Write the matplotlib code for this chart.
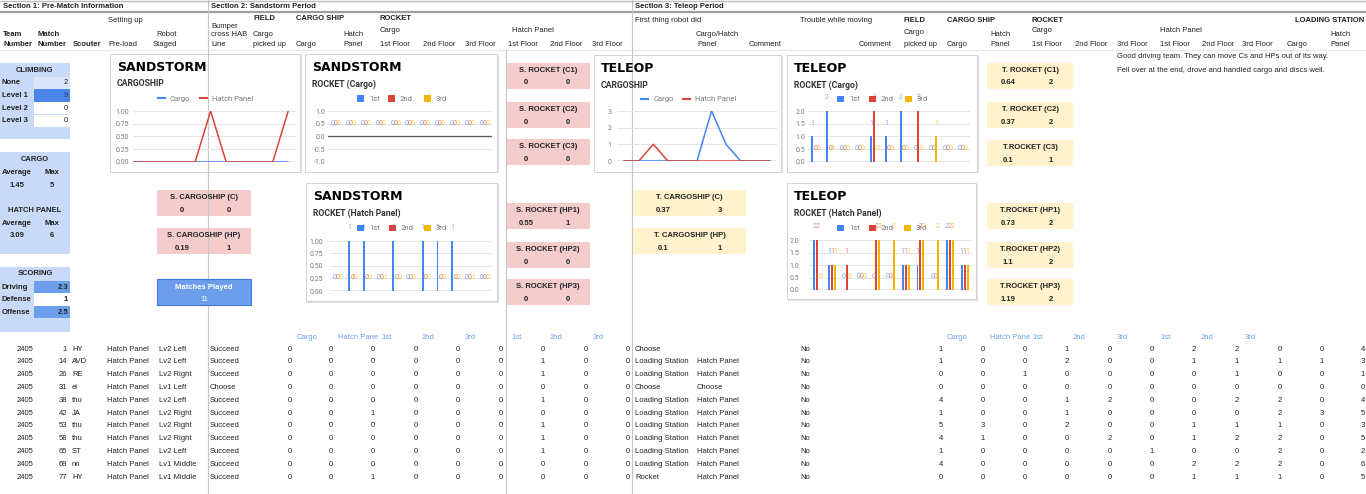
import matplotlib
matplotlib.use("Agg")
import matplotlib.pyplot as plt
from matplotlib.patches import Rectangle
import numpy as np

W, H = 1366, 494

# ─────────────────────────────────────────────
# Sheet data (one entry per scouted match)
# ─────────────────────────────────────────────
team_number = [2405, 2405, 2405, 2405, 2405, 2405, 2405, 2405, 2405, 2405, 2405]
match_number = [1, 14, 26, 31, 38, 42, 53, 58, 65, 69, 77]
scouter = ["HY", "AVD", "RE", "el", "thu", "JA", "thu", "thu", "ST", "nn", "HY"]
pre_load = ["Hatch Panel"] * 11
robot_staged = ["Lv2 Left", "Lv2 Left", "Lv2 Right", "Lv1 Left", "Lv2 Left", "Lv2 Right",
                "Lv2 Right", "Lv2 Right", "Lv2 Left", "Lv1 Middle", "Lv1 Middle"]
hab_line = ["Succeed", "Succeed", "Succeed", "Choose", "Succeed", "Succeed",
            "Succeed", "Succeed", "Succeed", "Succeed", "Succeed"]

# sandstorm counts
ss_cargo_picked = [0, 0, 0, 0, 0, 0, 0, 0, 0, 0, 0]
ss_ship_cargo = [0, 0, 0, 0, 0, 0, 0, 0, 0, 0, 0]
ss_ship_hatch = [0, 0, 0, 0, 0, 1, 0, 0, 0, 0, 1]
ss_rocket_c1 = [0, 0, 0, 0, 0, 0, 0, 0, 0, 0, 0]
ss_rocket_c2 = [0, 0, 0, 0, 0, 0, 0, 0, 0, 0, 0]
ss_rocket_c3 = [0, 0, 0, 0, 0, 0, 0, 0, 0, 0, 0]
ss_rocket_hp1 = [0, 1, 1, 0, 1, 0, 1, 1, 1, 0, 0]
ss_rocket_hp2 = [0, 0, 0, 0, 0, 0, 0, 0, 0, 0, 0]
ss_rocket_hp3 = [0, 0, 0, 0, 0, 0, 0, 0, 0, 0, 0]

first_thing = ["Choose", "Loading Station", "Loading Station", "Choose", "Loading Station",
               "Loading Station", "Loading Station", "Loading Station", "Loading Station",
               "Loading Station", "Rocket"]
first_piece = ["", "Hatch Panel", "Hatch Panel", "Choose", "Hatch Panel", "Hatch Panel",
               "Hatch Panel", "Hatch Panel", "Hatch Panel", "Hatch Panel", "Hatch Panel"]
trouble = ["No"] * 11

# teleop counts
te_cargo_picked = [1, 1, 0, 0, 4, 1, 5, 4, 1, 4, 0]
te_ship_cargo = [0, 0, 0, 0, 0, 0, 3, 1, 0, 0, 0]
te_ship_hatch = [0, 0, 1, 0, 0, 0, 0, 0, 0, 0, 0]
te_rocket_c1 = [1, 2, 0, 0, 1, 1, 2, 0, 0, 0, 0]
te_rocket_c2 = [0, 0, 0, 0, 2, 0, 0, 2, 0, 0, 0]
te_rocket_c3 = [0, 0, 0, 0, 0, 0, 0, 0, 1, 0, 0]
te_rocket_hp1 = [2, 1, 0, 0, 0, 0, 1, 1, 0, 2, 1]
te_rocket_hp2 = [2, 1, 1, 0, 2, 0, 1, 2, 0, 2, 1]
te_rocket_hp3 = [0, 1, 0, 0, 2, 2, 1, 2, 2, 2, 1]
te_ls_cargo = [0, 1, 0, 0, 0, 3, 0, 0, 0, 0, 0]
te_ls_hatch = [4, 3, 1, 0, 4, 5, 3, 5, 2, 6, 5]

# summary panels
climb_labels = ["None", "Level 1", "Level 2", "Level 3"]
climb_counts = [2, 9, 0, 0]
cargo_avg, cargo_max = "1.45", "5"
hatch_avg, hatch_max = "3.09", "6"
scoring_labels = ["Driving", "Defense", "Offense"]
scoring_values = ["2.3", "1", "2.5"]
matches_played = 11

ss_ship_titles = ["S. CARGOSHIP (C)", "S. CARGOSHIP (HP)"]
ss_ship_avg = ["0", "0.19"]
ss_ship_max = ["0", "1"]
ss_rocket_titles = ["S. ROCKET (C1)", "S. ROCKET (C2)", "S. ROCKET (C3)",
                    "S. ROCKET (HP1)", "S. ROCKET (HP2)", "S. ROCKET (HP3)"]
ss_rocket_avg = ["0", "0", "0", "0.55", "0", "0"]
ss_rocket_max = ["0", "0", "0", "1", "0", "0"]
te_ship_titles = ["T. CARGOSHIP (C)", "T. CARGOSHIP (HP)"]
te_ship_avg = ["0.37", "0.1"]
te_ship_max = ["3", "1"]
te_rocket_titles = ["T. ROCKET (C1)", "T. ROCKET (C2)", "T.ROCKET (C3)",
                    "T.ROCKET (HP1)", "T.ROCKET (HP2)", "T.ROCKET (HP3)"]
te_rocket_avg = ["0.64", "0.37", "0.1", "0.73", "1.1", "1.19"]
te_rocket_max = ["2", "2", "1", "2", "2", "2"]

comments = ["Good driving team. They can move Cs and HPs out of its way.",
            "Fell over at the end, drove and handled cargo and discs well."]

ss_sub_headers = ["Cargo", "Hatch Pane", "1st", "2nd", "3rd", "1st", "2nd", "3rd"]
te_sub_headers = ["Cargo", "Hatch Pane", "1st", "2nd", "3rd", "1st", "2nd", "3rd"]

# ─────────────────────────────────────────────
# Style tokens
# ─────────────────────────────────────────────
BODY = ["Liberation Sans", "DejaVu Sans"]
CHART = ["Roboto", "DejaVu Sans"]
TITLE = ["DejaVu Sans"]
BLUE, RED, YELLOW = "#4285f4", "#db4437", "#f4b400"
LBLUE, PINK, CREAM = "#c9daf8", "#f4cccc", "#fff2cc"
GRID, TICK = "#e4e4e4", "#7a7a7a"
FS = 5.5

plt.rcParams["font.family"] = BODY

fig = plt.figure(figsize=(W / 100, H / 100), dpi=100)
bg = fig.add_axes([0, 0, 1, 1])
bg.set_xlim(0, W)
bg.set_ylim(H, 0)
bg.axis("off")


def txt(x, y, s, size=FS, weight="normal", color="#222222", ha="left", family=BODY, z=5):
    bg.text(x, y, s, fontsize=size, fontweight=weight, color=color, ha=ha,
            va="center", family=family, zorder=z)


def rect(x0, y0, x1, y1, fc, ec="none", lw=0.8, z=1):
    bg.add_patch(Rectangle((x0, y0), x1 - x0, y1 - y0, facecolor=fc,
                           edgecolor=ec, lw=lw, zorder=z))


# ─────────────────────────────────────────────
# Grid lines and header
# ─────────────────────────────────────────────
bg.plot([0, W], [0.8, 0.8], color="#bdbdbd", lw=1.0, zorder=2)
bg.plot([0, W], [12.5, 12.5], color="#9e9e9e", lw=1.6, zorder=2)
bg.plot([0, W], [50.5, 50.5], color="#e6e6e6", lw=0.8, zorder=2)
for vx, vy0 in [(208, 0), (632, 0), (505.5, 50)]:
    bg.plot([vx, vx], [vy0, H], color="#c6c6c6", lw=0.8, zorder=3)

txt(3, 6, "Section 1: Pre-Match Information", weight="bold")
txt(211, 6, "Section 2: Sandstorm Period", weight="bold")
txt(635, 6, "Section 3: Teleop Period", weight="bold")

header = [
    (108, 20, "Setting up", "normal", "left"),
    (3, 35, "Team", "bold", "left"), (3, 44, "Number", "bold", "left"),
    (37, 35, "Match", "bold", "left"), (37, 44, "Number", "bold", "left"),
    (73, 44, "Scouter", "bold", "left"), (108, 44, "Pre-load", "normal", "left"),
    (177, 35, "Robot", "normal", "right"), (177, 44, "Staged", "normal", "right"),
    (211, 27, "Bumper", "normal", "left"), (211, 35, "cross HAB", "normal", "left"),
    (211, 44, "Line", "normal", "left"),
    (253, 19, "FIELD", "bold", "left"), (253, 35, "Cargo", "normal", "left"),
    (253, 44, "picked up", "normal", "left"),
    (296, 19, "CARGO SHIP", "bold", "left"), (296, 44, "Cargo", "normal", "left"),
    (343, 35, "Hatch", "normal", "left"), (343, 44, "Panel", "normal", "left"),
    (380, 19, "ROCKET", "bold", "left"), (380, 31, "Cargo", "normal", "left"),
    (380, 44, "1st Floor", "normal", "left"), (423, 44, "2nd Floor", "normal", "left"),
    (465, 44, "3rd Floor", "normal", "left"), (512, 31, "Hatch Panel", "normal", "left"),
    (508, 44, "1st Floor", "normal", "left"), (550, 44, "2nd Floor", "normal", "left"),
    (592, 44, "3rd Floor", "normal", "left"),
    (635, 20, "First thing robot did", "normal", "left"),
    (696, 35, "Cargo/Hatch", "normal", "left"), (697, 44, "Panel", "normal", "left"),
    (749, 44, "Comment", "normal", "left"),
    (800, 20, "Trouble while moving", "normal", "left"),
    (892, 44, "Comment", "normal", "right"),
    (904, 20, "FIELD", "bold", "left"), (904, 33, "Cargo", "normal", "left"),
    (904, 44, "picked up", "normal", "left"),
    (947, 20, "CARGO SHIP", "bold", "left"), (947, 44, "Cargo", "normal", "left"),
    (990, 35, "Hatch", "normal", "left"), (990, 44, "Panel", "normal", "left"),
    (1032, 20, "ROCKET", "bold", "left"), (1032, 31, "Cargo", "normal", "left"),
    (1032, 44, "1st Floor", "normal", "left"), (1075, 44, "2nd Floor", "normal", "left"),
    (1117, 44, "3rd Floor", "normal", "left"), (1160, 31, "Hatch Panel", "normal", "left"),
    (1160, 44, "1st Floor", "normal", "left"), (1202, 44, "2nd Floor", "normal", "left"),
    (1242, 44, "3rd Floor", "normal", "left"),
    (1364, 20, "LOADING STATION", "bold", "right"),
    (1287, 44, "Cargo", "normal", "left"),
    (1330, 35, "Hatch", "normal", "left"), (1330, 44, "Panel", "normal", "left"),
]
for hx, hy, s, w, ha in header:
    txt(hx, hy, s, weight=w, ha=ha)

# ─────────────────────────────────────────────
# Left summary panels
# ─────────────────────────────────────────────
rect(0, 63, 70, 139, LBLUE)
txt(35, 70, "CLIMBING", weight="bold", ha="center")
climb_fill = ["#dae5f8", "#4a86e8", "white", "white"]
for i, (lab, val) in enumerate(zip(climb_labels, climb_counts)):
    yy = 83 + i * 12.6
    rect(34, yy - 6.3, 70, yy + 6.3, climb_fill[i], z=2)
    txt(2, yy, lab, weight="bold")
    txt(68, yy, str(val), ha="right", color="#1f3a6e" if i == 1 else "#222222")

rect(0, 152, 70, 254, LBLUE)
txt(35, 159, "CARGO", weight="bold", ha="center")
txt(2, 172, "Average", weight="bold")
txt(52, 172, "Max", weight="bold", ha="center")
txt(17, 185, cargo_avg, weight="bold", ha="center")
txt(52, 185, cargo_max, weight="bold", ha="center")
txt(35, 210, "HATCH PANEL", weight="bold", ha="center")
txt(2, 223, "Average", weight="bold")
txt(52, 223, "Max", weight="bold", ha="center")
txt(17, 235, hatch_avg, weight="bold", ha="center")
txt(52, 235, hatch_max, weight="bold", ha="center")

rect(0, 267, 70, 332, LBLUE)
txt(35, 273, "SCORING", weight="bold", ha="center")
score_fill = ["#6d9eeb", "white", "#6d9eeb"]
for i, (lab, val) in enumerate(zip(scoring_labels, scoring_values)):
    yy = 287 + i * 12.5
    rect(34, yy - 6.2, 70, yy + 6.2, score_fill[i], z=2)
    txt(2, yy, lab, weight="bold")
    txt(68, yy, val, weight="bold", ha="right")


# ─────────────────────────────────────────────
# Stat boxes
# ─────────────────────────────────────────────
def stat_box(x0, y0, x1, title, avg, mx, fc, avg_x, max_x):
    rect(x0, y0, x1, y0 + 26, fc, z=2)
    txt((x0 + x1) / 2, y0 + 7, title, weight="bold", ha="center")
    txt(avg_x, y0 + 20, avg, weight="bold", ha="center")
    txt(max_x, y0 + 20, mx, weight="bold", ha="center")


for top, t, a, m in zip([190, 228], ss_ship_titles, ss_ship_avg, ss_ship_max):
    stat_box(157, top, 251, t, a, m, PINK, 182, 229)
for top, t, a, m in zip([63, 102, 139, 203, 242, 279], ss_rocket_titles, ss_rocket_avg, ss_rocket_max):
    stat_box(506, top, 590, t, a, m, PINK, 526, 568)
for top, t, a, m in zip([190, 228], te_ship_titles, te_ship_avg, te_ship_max):
    stat_box(633, top, 746, t, a, m, CREAM, 663, 720)
for top, t, a, m in zip([63, 102, 140, 203, 242, 279], te_rocket_titles, te_rocket_avg, te_rocket_max):
    stat_box(987, top, 1073, t, a, m, CREAM, 1008, 1051)

rect(157, 279, 251, 305, "#6d9eeb", ec="#3c78d8", lw=0.8, z=4)
txt(204, 287, "Matches Played", weight="bold", ha="center", color="white", z=6)
txt(204, 299, str(matches_played), ha="center", color="white", z=6)

for i, c in enumerate(comments):
    txt(1117, 57 + i * 13, c)


# ─────────────────────────────────────────────
# Embedded charts
# ─────────────────────────────────────────────
def chart_frame(x0, y0, x1, y1, title, sub):
    rect(x0 + 1, y0 + 1, x1 + 1.5, y1 + 1.5, "#e2e2e2", z=2)
    rect(x0, y0, x1, y1, "white", ec="#d2d2d2", lw=0.7, z=2)
    txt(x0 + 7, y0 + 13.5, title, size=9, weight="bold", color="black", family=TITLE, z=6)
    txt(x0 + 7, y0 + 30, sub, size=6.2, weight="bold", color="#333333", family=CHART, z=6)


def legend_lines(items, y):
    for lx, lab, col in items:
        bg.plot([lx, lx + 7], [y, y], color=col, lw=1.5, zorder=6)
        txt(lx + 12, y, lab, size=5.5, color=TICK, family=CHART, z=6)


def legend_squares(items, y):
    for lx, lab, col in items:
        rect(lx, y - 3.3, lx + 6.6, y + 3.3, col, z=6)
        txt(lx + 12, y, lab, size=5.5, color=TICK, family=CHART, z=6)


def plot_axes(x0, y0, x1, y1, ylim, yticks, fmt, pad):
    ax = fig.add_axes([x0 / W, 1 - y1 / H, (x1 - x0) / W, (y1 - y0) / H], zorder=3)
    ax.patch.set_alpha(0)
    for sp in ax.spines.values():
        sp.set_visible(False)
    ax.set_ylim(*ylim)
    ax.set_yticks(yticks)
    ax.set_yticklabels([fmt.format(v) for v in yticks], fontsize=5, color=TICK, family=CHART)
    ax.set_xticks([])
    ax.tick_params(axis="y", length=0, pad=pad)
    ax.grid(axis="y", color=GRID, lw=0.8)
    ax.set_axisbelow(True)
    ax.axhline(0, color="#555555", lw=0.9, zorder=1.5)
    return ax


idx = np.arange(len(match_number))


def line_chart(ax, cargo, hatch):
    ax.plot(idx, cargo, color=BLUE, lw=1.1, zorder=3)
    ax.plot(idx, hatch, color=RED, lw=1.1, zorder=4)


def bar_chart(ax, s1, s2, s3):
    ax.set_xlim(-0.5, 10.5)
    for vals, col, off in [(s1, BLUE, -0.2), (s2, RED, 0.0), (s3, YELLOW, 0.2)]:
        ax.bar(idx + off, vals, width=0.13, color=col, zorder=3)
        for j, v in enumerate(vals):
            ax.annotate(str(v), (j + off, v), xytext=(0, 9.4), textcoords="offset points",
                        ha="center", va="center", fontsize=5, color=col, alpha=0.7,
                        family=CHART, annotation_clip=False)


# Sandstorm cargoship
chart_frame(110, 54, 300, 172, "SANDSTORM", "CARGOSHIP")
legend_lines([(158, "Cargo", BLUE), (200, "Hatch Panel", RED)], 98.5)
ax = plot_axes(133, 111, 296, 162, (0, 1), [0, 0.25, 0.5, 0.75, 1.0], "{:.2f}", 3)
ax.set_xlim(0, 10.5)
line_chart(ax, ss_ship_cargo, ss_ship_hatch)

# Sandstorm rocket cargo
chart_frame(305, 54, 497, 172, "SANDSTORM", "ROCKET (Cargo)")
legend_squares([(357, "1st", BLUE), (388, "2nd", RED), (424, "3rd", YELLOW)], 98.5)
ax = plot_axes(328, 111, 492, 162, (-1, 1), [-1.0, -0.5, 0.0, 0.5, 1.0], "{:.1f}", 2)
bar_chart(ax, ss_rocket_c1, ss_rocket_c2, ss_rocket_c3)

# Sandstorm rocket hatch panel
chart_frame(306, 183, 497, 301, "SANDSTORM", "ROCKET (Hatch Panel)")
legend_squares([(357, "1st", BLUE), (389, "2nd", RED), (424, "3rd", YELLOW)], 228)
ax = plot_axes(330, 241, 492, 291, (0, 1), [0, 0.25, 0.5, 0.75, 1.0], "{:.2f}", 5)
bar_chart(ax, ss_rocket_hp1, ss_rocket_hp2, ss_rocket_hp3)

# Teleop cargoship
chart_frame(594, 55, 781, 172, "TELEOP", "CARGOSHIP")
legend_lines([(641, "Cargo", BLUE), (683, "Hatch Panel", RED)], 99)
ax = plot_axes(617, 111, 777, 161, (0, 3), [0, 1, 2, 3], "{:.0f}", 4)
ax.set_xlim(-0.5, 10.5)
line_chart(ax, te_ship_cargo, te_ship_hatch)

# Teleop rocket cargo
chart_frame(787, 55, 977, 172, "TELEOP", "ROCKET (Cargo)")
legend_squares([(837, "1st", BLUE), (869, "2nd", RED), (905, "3rd", YELLOW)], 99)
ax = plot_axes(808, 111, 970, 162, (0, 2), [0, 0.5, 1.0, 1.5, 2.0], "{:.1f}", 2)
bar_chart(ax, te_rocket_c1, te_rocket_c2, te_rocket_c3)

# Teleop rocket hatch panel
chart_frame(787, 183, 976, 299, "TELEOP", "ROCKET (Hatch Panel)")
legend_squares([(837, "1st", BLUE), (869, "2nd", RED), (904, "3rd", YELLOW)], 228)
ax = plot_axes(810, 240, 972, 290, (0, 2), [0, 0.5, 1.0, 1.5, 2.0], "{:.1f}", 8)
bar_chart(ax, te_rocket_hp1, te_rocket_hp2, te_rocket_hp3)

# ─────────────────────────────────────────────
# Raw data rows
# ─────────────────────────────────────────────
SUBHDR = "#6d9eeb"
for hx, s in zip([297, 338, 381, 422, 465, 511, 550, 593], ss_sub_headers):
    txt(hx, 337, s, color=SUBHDR)
for hx, s in zip([947, 990, 1032, 1073, 1117, 1160, 1201, 1245], te_sub_headers):
    txt(hx, 337, s, color=SUBHDR)

ss_cols = [ss_cargo_picked, ss_ship_cargo, ss_ship_hatch, ss_rocket_c1, ss_rocket_c2,
           ss_rocket_c3, ss_rocket_hp1, ss_rocket_hp2, ss_rocket_hp3]
ss_right = [292, 333, 375, 418, 460, 503, 545, 588, 630]
te_cols = [te_cargo_picked, te_ship_cargo, te_ship_hatch, te_rocket_c1, te_rocket_c2,
           te_rocket_c3, te_rocket_hp1, te_rocket_hp2, te_rocket_hp3, te_ls_cargo, te_ls_hatch]
te_right = [943, 985, 1027, 1069, 1112, 1154, 1196, 1239, 1282, 1324, 1365]

for r in range(len(match_number)):
    ry = 349 + r * 12.8
    txt(33, ry, str(team_number[r]), ha="right")
    txt(67, ry, str(match_number[r]), ha="right")
    txt(72, ry, scouter[r])
    txt(107, ry, pre_load[r])
    txt(159, ry, robot_staged[r])
    txt(210, ry, hab_line[r])
    for col, rx in zip(ss_cols, ss_right):
        txt(rx, ry, str(col[r]), ha="right")
    txt(635, ry, first_thing[r])
    txt(697, ry, first_piece[r])
    txt(800, ry, trouble[r])
    for col, rx in zip(te_cols, te_right):
        txt(rx, ry, str(col[r]), ha="right")

fig.savefig("out.png", dpi=100)
